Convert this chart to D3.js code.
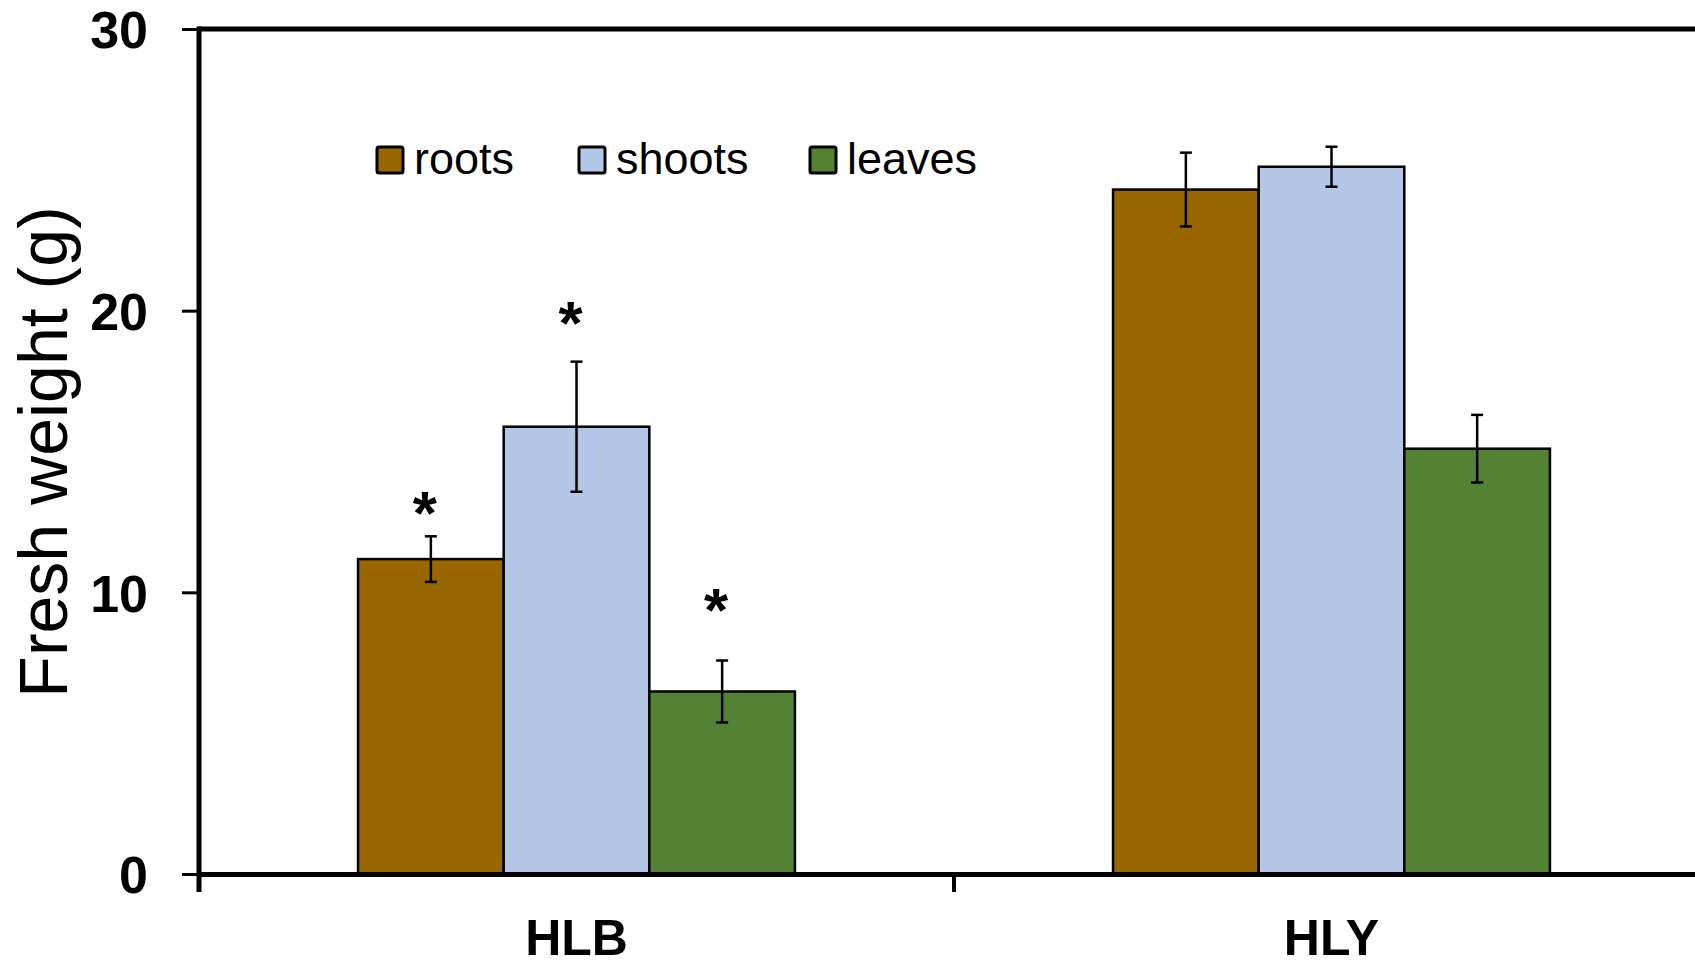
<!DOCTYPE html>
<html>
<head>
<meta charset="utf-8">
<script src="https://cdn.jsdelivr.net/npm/d3@7"></script>
<style>
  html, body { margin: 0; padding: 0; background: #fff; }
  svg { display: block; }
  text { font-family: "Liberation Sans", Arial, Helvetica, sans-serif; fill: #000; }
</style>
</head>
<body>
<svg id="chart" width="1695" height="966"></svg>
<script>
// Fresh weight of plant organs per group
const groups = ["HLB", "HLY"];
const organs = ["roots", "shoots", "leaves"];
const organColors = ["#996600", "#B4C7E7", "#548235"];

const meanHLB = [11.18, 15.88, 6.48];
const errHLB  = [0.81, 2.31, 1.10];
const meanHLY = [24.30, 25.11, 15.10];
const errHLY  = [1.31, 0.71, 1.20];

// significance asterisks: the value height each marker sits at (null = none)
const sigHLB = [13.25, 20.0, 9.8];
const sigHLY = [null, null, null];

const yTicks = [0, 10, 20, 30];
const yLabel = "Fresh weight (g)";

const rows = [];
groups.forEach((g, gi) => {
  const means = gi === 0 ? meanHLB : meanHLY;
  const errs  = gi === 0 ? errHLB : errHLY;
  const sigs  = gi === 0 ? sigHLB : sigHLY;
  organs.forEach((o, oi) => rows.push({ group: g, organ: o, mean: means[oi], err: errs[oi], sig: sigs[oi] }));
});

const svg = d3.select("#chart");

const plot = { left: 199, right: 1709, top: 29, bottom: 874 };

const x0 = d3.scaleBand().domain(groups).range([plot.left, plot.right]).paddingInner(0).paddingOuter(0);
const x1 = d3.scaleBand().domain(organs).range([0, x0.bandwidth()]).paddingInner(0).paddingOuter(1.092);
const y = d3.scaleLinear().domain([0, 30]).range([plot.bottom, plot.top]);
const color = d3.scaleOrdinal().domain(organs).range(organColors);

// bars
svg.append("g").selectAll("rect").data(rows).join("rect")
  .attr("x", d => x0(d.group) + x1(d.organ))
  .attr("y", d => y(d.mean))
  .attr("width", x1.bandwidth())
  .attr("height", d => y(0) - y(d.mean))
  .attr("fill", d => color(d.organ))
  .attr("stroke", "#000")
  .attr("stroke-width", 2.5);

// error bars
const eb = svg.append("g").attr("stroke", "#000").attr("stroke-width", 2.5);
const cx = d => x0(d.group) + x1(d.organ) + x1.bandwidth() / 2;
eb.selectAll("line.v").data(rows).join("line").attr("class", "v")
  .attr("x1", cx).attr("x2", cx)
  .attr("y1", d => y(d.mean + d.err)).attr("y2", d => y(d.mean - d.err));
eb.selectAll("line.t").data(rows).join("line").attr("class", "t")
  .attr("x1", d => cx(d) - 6).attr("x2", d => cx(d) + 6)
  .attr("y1", d => y(d.mean + d.err)).attr("y2", d => y(d.mean + d.err));
eb.selectAll("line.b").data(rows).join("line").attr("class", "b")
  .attr("x1", d => cx(d) - 6).attr("x2", d => cx(d) + 6)
  .attr("y1", d => y(d.mean - d.err)).attr("y2", d => y(d.mean - d.err));

// asterisks
svg.append("g").selectAll("text").data(rows.filter(d => d.sig != null)).join("text")
  .attr("x", d => cx(d) - 6)
  .attr("y", d => y(d.sig) + 33)
  .attr("text-anchor", "middle")
  .style("font-size", "62px")
  .style("font-weight", "bold")
  .text("*");

// plot frame: top edge
svg.append("line")
  .attr("x1", plot.left).attr("x2", plot.right)
  .attr("y1", plot.top).attr("y2", plot.top)
  .attr("stroke", "#000").attr("stroke-width", 5);

// y axis
const yAxis = svg.append("g")
  .attr("transform", `translate(${plot.left},0)`)
  .call(d3.axisLeft(y).tickValues(yTicks).tickSize(17).tickPadding(34).tickSizeOuter(0));
yAxis.select(".domain").attr("stroke-width", 5).attr("d", `M0,${plot.top - 2.5}V${plot.bottom + 18}`);
yAxis.selectAll(".tick line").attr("stroke-width", 3);
yAxis.selectAll(".tick text")
  .style("font-size", "52px").style("font-weight", "bold")
  .attr("dy", "0.36em");

// x axis
const xAxis = svg.append("g")
  .attr("transform", `translate(0,${plot.bottom})`)
  .call(d3.axisBottom(x0).tickSize(0).tickSizeOuter(0));
xAxis.select(".domain").attr("stroke-width", 5);
xAxis.selectAll(".tick text")
  .attr("y", 81).attr("dy", 0)
  .style("font-size", "50px").style("font-weight", "bold");

// boundary ticks between groups
svg.append("g").selectAll("line").data(groups.slice(1)).join("line")
  .attr("x1", d => x0(d)).attr("x2", d => x0(d))
  .attr("y1", plot.bottom).attr("y2", plot.bottom + 18)
  .attr("stroke", "#000").attr("stroke-width", 4);

// y axis title
svg.append("text")
  .attr("transform", `translate(67,452) rotate(-90)`)
  .attr("text-anchor", "middle")
  .style("font-size", "68px")
  .text(yLabel);

// legend
const legendX = [377, 579, 810];
const legend = svg.append("g").selectAll("g").data(organs).join("g")
  .attr("transform", (d, i) => `translate(${legendX[i]},147)`);
legend.append("rect")
  .attr("width", 26).attr("height", 26).attr("rx", 2)
  .attr("fill", d => color(d)).attr("stroke", "#000").attr("stroke-width", 3);
legend.append("text")
  .attr("x", 37).attr("y", 27)
  .style("font-size", "45px")
  .text(d => d);
</script>
</body>
</html>
